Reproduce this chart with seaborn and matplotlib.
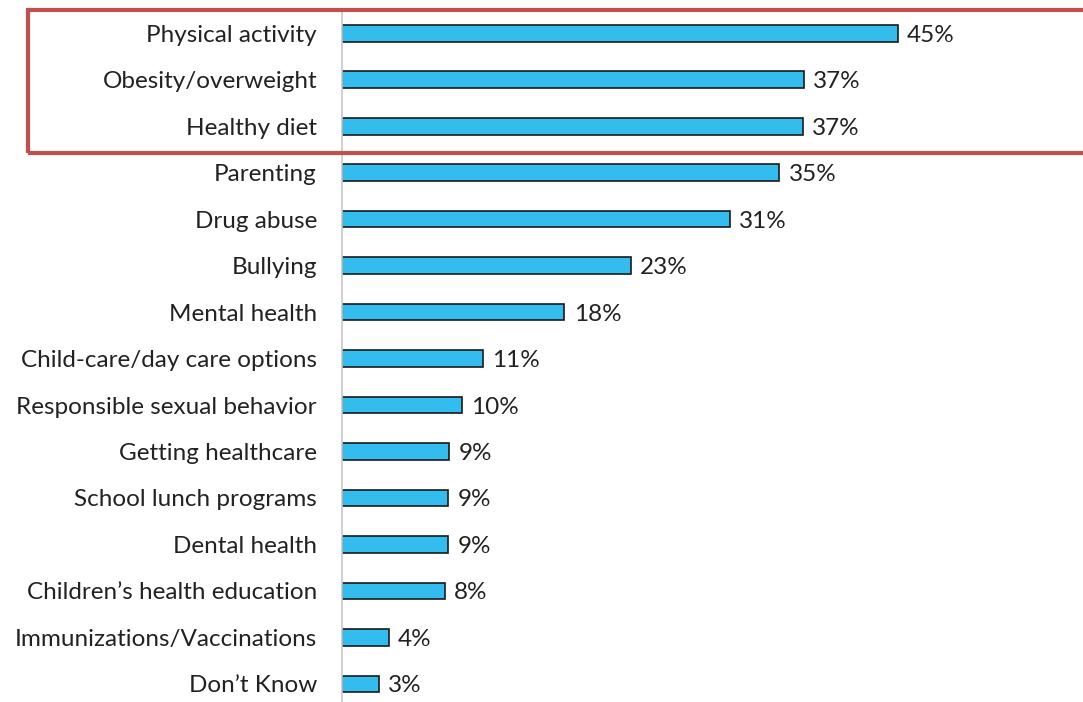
import pandas as pd
import numpy as np
from matplotlib import pyplot as plt
from matplotlib.patches import Rectangle
import seaborn as sns

# values (labels show rounded values)
topics = ['Physical activity', 'Obesity/overweight', 'Healthy diet', 'Parenting',
          'Drug abuse', 'Bullying', 'Mental health', 'Child-care/day care options',
          'Responsible sexual behavior', 'Getting healthcare', 'School lunch programs',
          'Dental health', "Children\u2019s health education",
          'Immunizations/Vaccinations', "Don\u2019t Know"]
pct = [45.0, 37.4, 37.3, 35.4, 31.4, 23.4, 18.0, 11.4, 9.7, 8.7, 8.6, 8.6, 8.3, 3.8, 3.0]
pct_labels = ['45%', '37%', '37%', '35%', '31%', '23%', '18%', '11%', '10%',
              '9%', '9%', '9%', '8%', '4%', '3%']

df = pd.DataFrame({'topic': topics, 'pct': pct})

sns.set_style('white')
plt.rcParams['font.family'] = ['Lato', 'DejaVu Sans']

fig = plt.figure(figsize=(10.83, 7.02), dpi=100)
W, H = 1083, 702
ax = fig.add_axes([342 / W, 0, (W - 342) / W, (702 - 10) / H])

sns.barplot(data=df, y='topic', x='pct', orient='h', color='#33BDEF',
            edgecolor='#1a1a1a', linewidth=1.2, width=0.36, saturation=1, ax=ax)

for i, (v, lab) in enumerate(zip(pct, pct_labels)):
    ax.text(v + 0.75, i, lab, va='center_baseline', ha='left', fontsize=17.5,
            color='#222222')

ax.set_xlim(0, (W - 342) / 12.35)
ax.set_ylim(14.39, -0.5)
ax.set_xlabel('')
ax.set_ylabel('')
ax.set_xticks([])
ax.tick_params(axis='y', length=0, pad=18, labelsize=17.5, labelcolor='#222222')
for t in ax.get_yticklabels():
    t.set_verticalalignment('center_baseline')
for s in ['top', 'right', 'bottom']:
    ax.spines[s].set_visible(False)
ax.spines['left'].set_color('#c8c8c8')
ax.spines['left'].set_linewidth(1.2)

# red box around the top three topics
fig.patches.append(Rectangle((28 / W, 1 - 153 / H), (W - 28) / W + 0.01, (153 - 10) / H,
                             transform=fig.transFigure, fill=False,
                             edgecolor='#C0504D', linewidth=3, clip_on=False))

fig.savefig('out.png', dpi=100)
